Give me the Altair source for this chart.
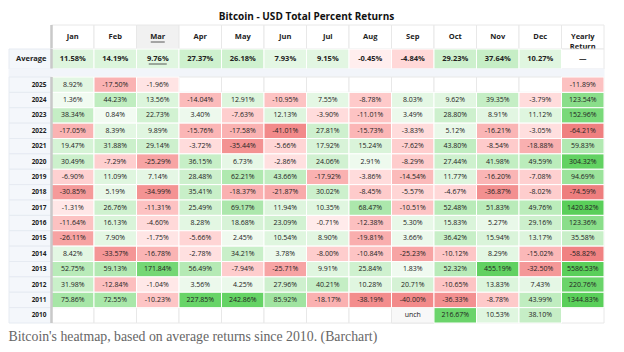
import altair as alt
import pandas as pd

months = ["Jan", "Feb", "Mar", "Apr", "May", "Jun", "Jul", "Aug", "Sep", "Oct", "Nov", "Dec"]
cols = ["lbl"] + months + ["Yearly"]
header_text = [""] + months + ["Yearly\nReturn"]

average = [11.58, 14.19, 9.76, 27.37, 26.18, 7.93, 9.15, -0.45, -4.84, 29.23, 37.64, 10.27]

years = [2025, 2024, 2023, 2022, 2021, 2020, 2019, 2018, 2017, 2016, 2015, 2014, 2013, 2012, 2011, 2010]
N = None
y2025 = [8.92, -17.50, -1.96, N, N, N, N, N, N, N, N, N]
y2024 = [1.36, 44.23, 13.56, -14.04, 12.91, -10.95, 7.55, -8.78, 8.03, 9.62, 39.35, -3.79]
y2023 = [38.34, 0.84, 22.73, 3.40, -7.63, 12.13, -3.90, -11.01, 3.49, 28.80, 8.91, 11.12]
y2022 = [-17.05, 8.39, 9.89, -15.76, -17.58, -41.01, 27.81, -15.73, -3.83, 5.12, -16.21, -3.05]
y2021 = [19.47, 31.88, 29.14, -3.72, -35.44, -5.66, 17.92, 15.24, -7.62, 43.80, -8.54, -18.88]
y2020 = [30.49, -7.29, -25.29, 36.15, 6.73, -2.86, 24.06, 2.91, -8.29, 27.44, 41.98, 49.59]
y2019 = [-6.90, 11.09, 7.14, 28.48, 62.21, 43.66, -17.92, -3.86, -14.54, 11.77, -16.20, -7.08]
y2018 = [-30.85, 5.19, -34.99, 35.41, -18.37, -21.87, 30.02, -8.45, -5.57, -4.67, -36.87, -8.02]
y2017 = [-1.31, 26.76, -11.31, 25.49, 69.17, 11.94, 10.35, 68.47, -10.51, 52.48, 51.83, 49.76]
y2016 = [-11.64, 16.13, -4.60, 8.28, 18.68, 23.09, -0.71, -12.38, 5.30, 15.83, 5.27, 29.16]
y2015 = [-26.11, 7.90, -1.75, -5.66, 2.45, 10.54, 8.90, -19.81, 3.66, 36.42, 15.94, 13.17]
y2014 = [8.42, -33.57, -16.78, -2.78, 34.21, 3.78, -8.00, -10.84, -25.23, -10.12, 8.29, -15.02]
y2013 = [52.75, 59.13, 171.84, 56.49, -7.94, -25.71, 9.91, 25.84, 1.83, 52.32, 455.19, -32.50]
y2012 = [31.98, -12.84, -1.04, 3.56, 4.25, 27.96, 40.21, 10.28, 20.71, -10.65, 13.83, 7.43]
y2011 = [75.86, 72.55, -10.23, 227.85, 242.86, 85.92, -18.17, -38.19, -40.00, -36.33, -8.78, 43.99]
y2010 = [N, N, N, N, N, N, N, N, N, 216.67, 10.53, 38.10]
unch_cells = [(2010, "Sep")]
yearly = [-11.89, 123.54, 152.96, -64.21, 59.83, 304.32, 94.69, -74.59, 1420.82, 123.36,
          35.58, -58.82, 5586.53, 220.76, 1344.83, N]

monthly = [y2025, y2024, y2023, y2022, y2021, y2020, y2019, y2018, y2017, y2016,
           y2015, y2014, y2013, y2012, y2011, y2010]


def fmt(v):
    return "" if v is None else f"{v:.2f}%"


# ---- tables built from the arrays ----
header_df = pd.DataFrame({"col": cols, "text": header_text,
                          "hl": [c == "Mar" for c in cols]})

avg_rows = [{"col": m, "value": v, "text": fmt(v)} for m, v in zip(months, average)]
avg_rows.append({"col": "Yearly", "value": None, "text": "—"})
avg_df = pd.DataFrame(avg_rows)

body_rows = []
for yr, vals, yv in zip(years, monthly, yearly):
    for m, v in zip(months, vals):
        t = fmt(v)
        if (yr, m) in unch_cells:
            t = "unch"
        body_rows.append({"year": str(yr), "col": m, "value": v, "text": t})
    body_rows.append({"year": str(yr), "col": "Yearly", "value": yv, "text": fmt(yv)})
body_df = pd.DataFrame(body_rows)
year_df = pd.DataFrame({"year": [str(y) for y in years], "col": "lbl"})

# ---- styling ----
W = 595
FONT = "Open Sans"
xscale = alt.Scale(domain=cols, paddingInner=0, paddingOuter=0)
cscale = alt.Scale(
    domain=[-70, -40, -30, -17, -10, -5, -1, -0.01, 0, 1, 5, 10, 25, 40, 60, 80, 150, 250, 1000],
    range=["#ee7e7e", "#f28a8a", "#f59c9c", "#fab3b3", "#fdc6c6", "#ffd7d7", "#ffe8e8",
           "#fff3f3", "#f5fcf5", "#f2fbf2", "#e9f8e9", "#e0f6e0", "#d0f1d0", "#c4eec4",
           "#b2e9b2", "#a4e5a4", "#7ad97a", "#63d263", "#5acf5a"],
    clamp=True, type="linear")
GRID = "#e8e8e8"
LBLBG = "#f4f7fb"
RULE = "#c9c9c9"


def X(**kw):
    return alt.X("col:N", scale=xscale, axis=None, **kw)


def sep_rule(h):
    return alt.Chart(pd.DataFrame({"col": ["Jan"]})).mark_rule(
        color=RULE, strokeWidth=2.5).encode(
        x=X(bandPosition=0), y=alt.value(0), y2=alt.value(h))


# Header panel
HH = 24
hdr_base = alt.Chart(header_df).transform_filter("datum.col != 'lbl'")
header = alt.layer(
    hdr_base.mark_rect(stroke=GRID, strokeWidth=1).encode(
        x=X(), y=alt.value(0), y2=alt.value(HH),
        fill=alt.condition("datum.hl", alt.value("#f1f1f1"), alt.value("#ffffff"))),
    hdr_base.mark_text(font=FONT, fontSize=7.5, fontWeight="bold", color="#222",
                       lineBreak="\n", baseline="middle").encode(
        x=X(), y=alt.value(HH / 2), text="text:N"),
    alt.Chart(header_df).transform_filter("datum.hl").mark_rule(
        color="#333", strokeWidth=0.8, xOffset=-7, x2Offset=7).encode(
        x=X(), x2=alt.X2("col:N"), y=alt.value(HH / 2 + 5)),
    sep_rule(HH),
).properties(width=W, height=HH)

# Average panel
AH = 20
avg_base = alt.Chart(avg_df)
avg_panel = alt.layer(
    alt.Chart(pd.DataFrame({"col": ["lbl"], "text": ["Average"]})).mark_rect(
        fill=LBLBG, stroke="#e6ebf2").encode(x=X(), y=alt.value(0), y2=alt.value(AH)),
    avg_base.mark_rect(fill="#ffffff", stroke=GRID).encode(
        x=X(), y=alt.value(0), y2=alt.value(AH)),
    avg_base.transform_filter("isValid(datum.value)").mark_rect(
        stroke="#ffffff", strokeWidth=1).encode(
        x=X(), y=alt.value(0), y2=alt.value(AH),
        fill=alt.Fill("value:Q", scale=cscale, legend=None)),
    avg_base.mark_text(font=FONT, fontSize=7.5, fontWeight="bold", color="#222",
                       baseline="middle").encode(
        x=X(), y=alt.value(AH / 2), text="text:N"),
    alt.Chart(pd.DataFrame({"col": ["lbl"], "text": ["Average"]})).mark_text(
        font=FONT, fontSize=7.5, fontWeight="bold", color="#222", align="right",
        baseline="middle", dx=-5).encode(
        x=X(bandPosition=1), y=alt.value(AH / 2), text="text:N"),
    avg_base.transform_filter("datum.col == 'Mar'").mark_rule(
        color="#333", strokeWidth=0.8, xOffset=-9, x2Offset=9).encode(
        x=X(), x2=alt.X2("col:N"), y=alt.value(AH / 2 + 5)),
    sep_rule(AH),
).properties(width=W, height=AH)

# Gap panel
GH = 8
gap = alt.Chart(header_df).mark_rect(fill="#f2f5fa", stroke="#f2f5fa").encode(
    x=X(), y=alt.value(0), y2=alt.value(GH)).properties(width=W, height=GH)

# Body panel
BH = 246
yscale = alt.Scale(domain=[str(y) for y in years], paddingInner=0, paddingOuter=0)


def Y():
    return alt.Y("year:N", scale=yscale, axis=None)


body_base = alt.Chart(body_df)
body = alt.layer(
    alt.Chart(year_df).mark_rect(fill=LBLBG, stroke="#e6ebf2").encode(x=X(), y=Y()),
    body_base.mark_rect(fill="#ffffff", stroke=GRID).encode(x=X(), y=Y()),
    body_base.transform_filter("datum.text == 'unch'").mark_rect(
        fill="#f8f8f8", stroke=GRID).encode(x=X(), y=Y()),
    body_base.transform_filter("isValid(datum.value)").mark_rect(
        stroke="#ffffff", strokeWidth=1).encode(
        x=X(), y=Y(), fill=alt.Fill("value:Q", scale=cscale, legend=None)),
    body_base.mark_text(font=FONT, fontSize=7, color="#222", baseline="middle").encode(
        x=X(), y=alt.Y("year:N", scale=yscale, axis=None, bandPosition=0.5), text="text:N"),
    alt.Chart(year_df).mark_text(font=FONT, fontSize=6.5, fontWeight="bold", color="#222",
                                 align="right", baseline="middle", dx=-5).encode(
        x=X(bandPosition=1), y=alt.Y("year:N", scale=yscale, axis=None, bandPosition=0.5),
        text="year:N"),
    sep_rule(BH),
).properties(
    width=W, height=BH,
    title=alt.TitleParams(
        "Bitcoin's heatmap, based on average returns since 2010. (Barchart)",
        orient="bottom", anchor="start", font="Liberation Serif", fontSize=13.8,
        fontWeight="normal", color="#666666", offset=6))

chart = alt.vconcat(header, avg_panel, gap, body, spacing=0, bounds="flush").properties(
    title=alt.TitleParams("Bitcoin - USD Total Percent Returns", font=FONT, fontSize=10,
                          fontWeight="bold", color="#111", anchor="middle", offset=2),
    padding={"left": 8, "top": 11, "right": 5, "bottom": 5},
).configure_view(stroke=None).configure_concat(spacing=0)

chart.save("out.html", embed_options={"renderer": "svg", "actions": False})
